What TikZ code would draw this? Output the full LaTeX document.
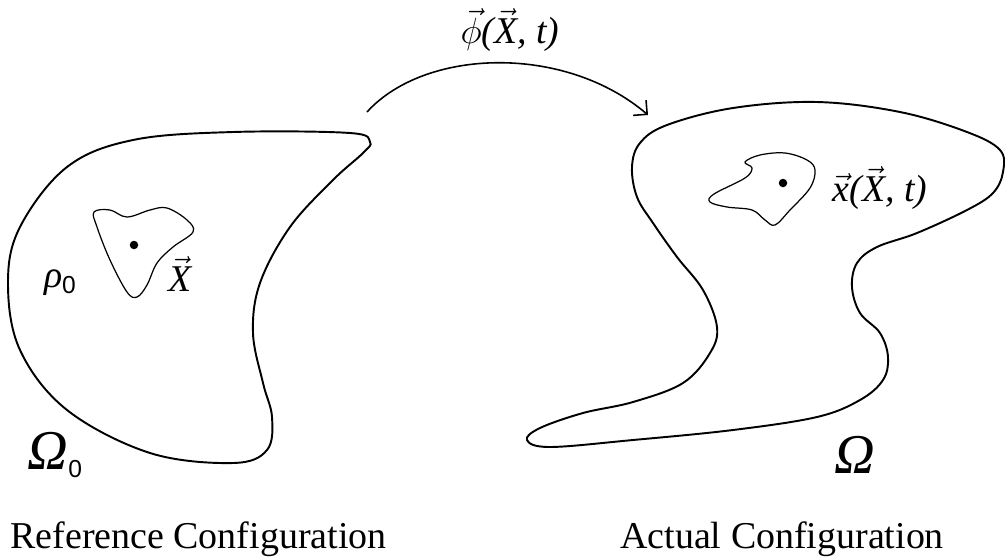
\documentclass[tikz,border=0pt]{standalone}
\usepackage{fontspec}
\setmainfont{Liberation Serif}
\setsansfont{Liberation Sans}
\usepackage{tikz}
\usetikzlibrary{arrows.meta}
\newcommand{\vecit}[1]{$\vec{\mbox{\itshape #1}}$}
\newcommand{\subzero}[1]{\raisebox{-#1}{\sffamily\fontsize{14}{14}\selectfont 0}}

\begin{document}
\begin{tikzpicture}[x=0.02cm,y=-0.02cm,
  bodyline/.style={line width=1.1pt,line join=round},
  subline/.style={line width=0.7pt},
  arr/.style={line width=0.9pt,-{Straight Barb[length=2mm,width=4mm]}},
  dotpt/.style={circle,fill,inner sep=0pt,minimum size=0.17cm},
  mathlbl/.style={inner sep=0pt,font=\fontsize{21.5}{25}\selectfont},
  biglbl/.style={inner sep=0pt,font=\fontsize{32}{36}\selectfont},
  cfglbl/.style={inner sep=0pt,anchor=base west,font=\fontsize{21.6}{26}\selectfont}
]
\useasboundingbox (0,0) rectangle (1005,559);

\draw[bodyline] plot[smooth cycle,tension=0.6] coordinates {
  (233,132) (133,140) (67,167) (20,227) (8,283) (20,350) (67,410) (150,453)
  (233,463) (267,450) (272,417) (263,383) (253,333) (260,283) (290,227)
  (333,180) (363,153) (370,142) (350,133)};
\draw[subline] plot[smooth cycle,tension=0.6] coordinates {
  (94,212) (110,210) (127,217) (150,210) (167,208) (187,220) (193,232)
  (173,247) (157,263) (147,285) (137,297) (127,292) (110,260) (97,227)};
\node[dotpt] (refpt) at (134,245) {};

\draw[bodyline] plot[smooth cycle,tension=0.6] coordinates {
  (632,167) (640,143) (667,125) (733,108) (817,102) (900,112) (967,132)
  (1000,150) (1003,172) (993,193) (967,210) (917,233) (877,247) (857,263)
  (852,287) (860,313) (880,333) (888,357) (883,380) (860,400) (817,417)
  (733,430) (633,440) (550,447) (527,440) (540,428) (583,413) (633,402)
  (683,383) (710,353) (717,327) (703,290) (677,257) (653,223) (637,197)};
\draw[subline] plot[smooth cycle,tension=0.6] coordinates {
  (745,162) (760,155) (785,153) (807,160) (815,170) (810,188) (790,210)
  (775,225) (765,220) (752,210) (727,207) (710,202) (714,194) (745,178)
  (752,168)};
\node[dotpt] (curpt) at (783,183) {};

\node[mathlbl] (rho) at (60,283) {\textit{ρ}\subzero{3pt}};
\node[mathlbl] (refX) at (180,274) {\vecit{X}};
\node[biglbl] (omega0) at (55,455) {\textit{Ω}\subzero{4pt}};
\node[mathlbl] (curx) at (880,188) {\textit{\vecit{x}(\vecit{X}, t)}};
\node[biglbl] (omega) at (855,455) {\textit{Ω}};

\coordinate (mapstart) at (367,112);
\coordinate (mapend) at (648,115);
\draw[arr] (mapstart) .. controls (425,48) and (565,44) .. (mapend);
\node[mathlbl] (phi) at (510,30) {$\vec{\phi}$\textit{(\vecit{X}, t)}};

\node[cfglbl] (refcfg) at (10,548) {Reference Configuration};
\node[cfglbl] (curcfg) at (620,548) {Actual Configuration};
\end{tikzpicture}
\end{document}
